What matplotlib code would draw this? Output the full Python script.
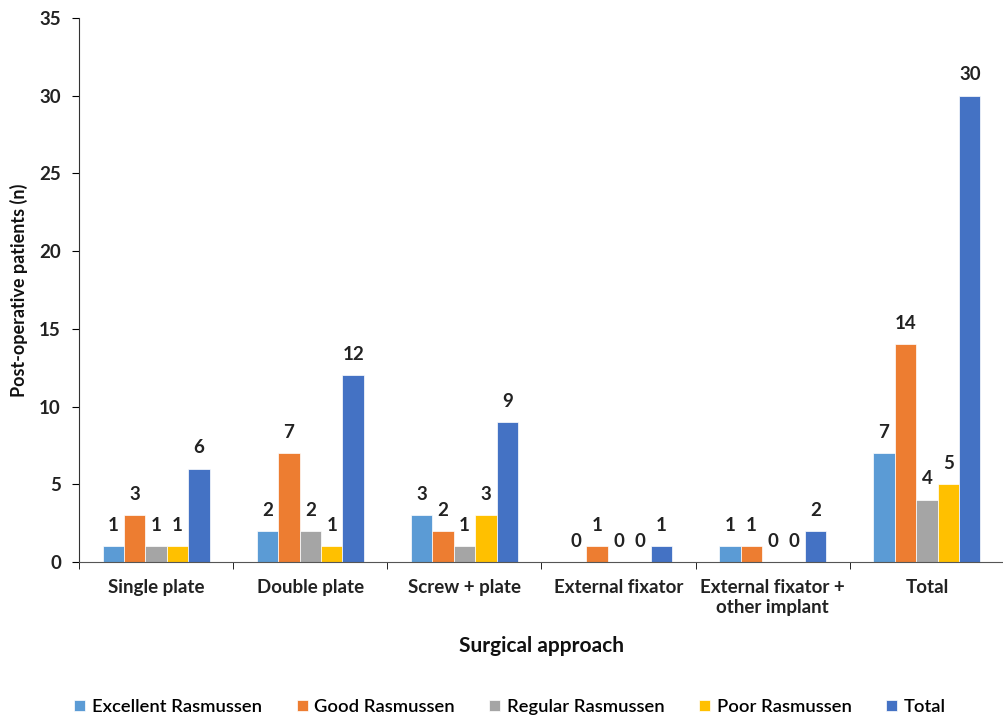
import matplotlib
matplotlib.use('Agg')
import matplotlib.pyplot as plt
import numpy as np

plt.rcParams['font.family'] = ['Lato', 'DejaVu Sans']

# Resultados por abordaje quirurgico
categorias = ['Single plate', 'Double plate', 'Screw + plate', 'External fixator',
              'External fixator +\nother implant', 'Total']
series = ['Excellent Rasmussen', 'Good Rasmussen', 'Regular Rasmussen',
          'Poor Rasmussen', 'Total']
excelente = [1, 2, 3, 0, 1, 7]
bueno = [3, 7, 2, 1, 1, 14]
regular = [1, 2, 1, 0, 0, 4]
malo = [1, 1, 3, 0, 0, 5]
total = [6, 12, 9, 1, 2, 30]
colores = ['#5B9BD5', '#ED7D31', '#A5A5A5', '#FFC000', '#4472C4']

valores = [excelente, bueno, regular, malo, total]

fig = plt.figure(figsize=(10.04, 7.17), dpi=100)
ax = fig.add_axes([79/1004, 155/717, 925/1004, 544/717])

x = np.arange(len(categorias))
ancho = 0.139
for i, (nombre, v, c) in enumerate(zip(series, valores, colores)):
    pos = x + (i - 2) * ancho
    ax.bar(pos, v, ancho, color=c, label=nombre, edgecolor='white', linewidth=0.5)
    for xp, val in zip(pos, v):
        ax.annotate(str(val), (xp, val), xytext=(0, 15), textcoords='offset points',
                    ha='center', va='center', fontsize=13.5, fontweight='bold',
                    color='#222222')

ax.set_xlim(-0.5, len(categorias) - 0.5)
ax.set_ylim(0, 35)
ax.set_yticks(range(0, 36, 5))
ax.set_xticks(x)
ax.set_xticklabels(categorias, fontsize=13.5, fontweight='bold', color='#222222',
                   linespacing=1.25)
ax.set_xticks(np.arange(-0.5, len(categorias), 1), minor=True)
ax.tick_params(axis='x', which='major', length=0, pad=12)
ax.tick_params(axis='x', which='minor', length=5, direction='out')
ax.tick_params(axis='y', labelsize=13.5, length=5, pad=8, labelcolor='#222222')
for t in ax.get_yticklabels():
    t.set_fontweight('bold')

ax.spines['top'].set_visible(False)
ax.spines['right'].set_visible(False)
ax.spines['left'].set_color('#333333')
ax.spines['bottom'].set_color('#555555')

ax.set_ylabel('Post-operative patients (n)', fontsize=13, fontweight='bold',
              labelpad=8, color='#111111')
ax.set_xlabel('Surgical approach', fontsize=15, fontweight='bold',
              labelpad=14, color='#111111')

fig.legend(loc='center', bbox_to_anchor=(0.508, 10/717), ncol=5,
           frameon=False, handlelength=0.6, handleheight=0.6,
           columnspacing=1.9, handletextpad=0.35,
           prop={'weight': 'semibold', 'size': 13.2})

fig.savefig('out.png', dpi=100)
